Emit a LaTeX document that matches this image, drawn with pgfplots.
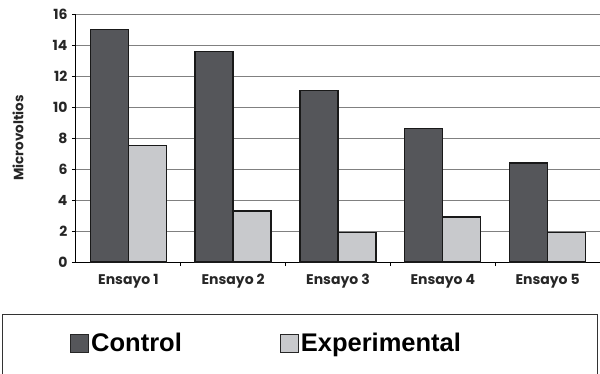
\documentclass[border=0pt]{standalone}
\usepackage{fontspec}
\setmainfont{Poppins}
\newfontfamily\legendfont{Liberation Sans}
\usepackage{pgfplots}
\pgfplotsset{compat=1.18}

\definecolor{ctrl}{HTML}{55565A}
\definecolor{expe}{HTML}{C8C9CC}
\definecolor{gridc}{HTML}{808080}

\begin{document}
\begin{tikzpicture}
% page frame: 600 x 373 with the plot origin at (76,262) from the top-left
\path[use as bounding box, clip] (-76pt,-111pt) rectangle (524pt,262pt);
\begin{axis}[
  name=ax,
  at={(0,0)}, anchor=south west,
  scale only axis,
  width=524pt, height=248pt,
  xmin=-0.5, xmax=4.5,
  ymin=0, ymax=16,
  ytick={0,2,...,16},
  xtick={0,1,2,3,4},
  xticklabels={Ensayo 1,Ensayo 2,Ensayo 3,Ensayo 4,Ensayo 5},
  minor xtick={0.5,1.5,2.5,3.5},
  major x tick style={draw=none},
  tick align=outside,
  major tick length=4pt,
  minor tick length=4pt,
  tick style={black, line width=0.8pt},
  axis x line*=bottom,
  axis y line*=left,
  axis line style={black, line width=1pt, -},
  ymajorgrids,
  grid style={gridc, line width=0.9pt},
  /pgf/number format/assume math mode=true,
  ticklabel style={font=\fontsize{14}{14}\selectfont\bfseries, text=black!85},
  xticklabel style={yshift=-5pt},
  yticklabel style={xshift=-1pt},
  ylabel={Microvoltios},
  every axis y label/.style={at={(-58pt,124pt)}, rotate=90, anchor=center,
    font=\fontsize{13.5}{13.5}\selectfont\bfseries, text=black!85},
  ybar=0pt,
  bar width=38pt,
  clip=false,
  legend columns=2,
  legend style={draw=none, fill=none, inner sep=0pt,
    at={(-6pt,-81.5pt)}, anchor=west,
    font=\legendfont\fontsize{25.5}{25.5}\selectfont\bfseries,
    /tikz/every even column/.append style={column sep=96pt}},
  legend image code/.code={\draw[#1, line width=1pt, draw=black!85] (0pt,-9pt) rectangle (18pt,9pt);},
  legend cell align=left,
]
\addplot[fill=ctrl, draw=black!90, line width=1.4pt] coordinates {(0,15) (1,13.6) (2,11.05) (3,8.6) (4,6.4)};
\addplot[fill=expe, draw=black!90, line width=1.4pt] coordinates {(0,7.5) (1,3.3) (2,1.9) (3,2.9) (4,1.9)};
\legend{Control,Experimental}
\end{axis}
% legend frame, open at the bottom of the page
\draw[black!80, line width=0.8pt] (-74pt,-113pt) -- (-74pt,-52pt) -- (521pt,-52pt) -- (521pt,-113pt);
\end{tikzpicture}
\end{document}
